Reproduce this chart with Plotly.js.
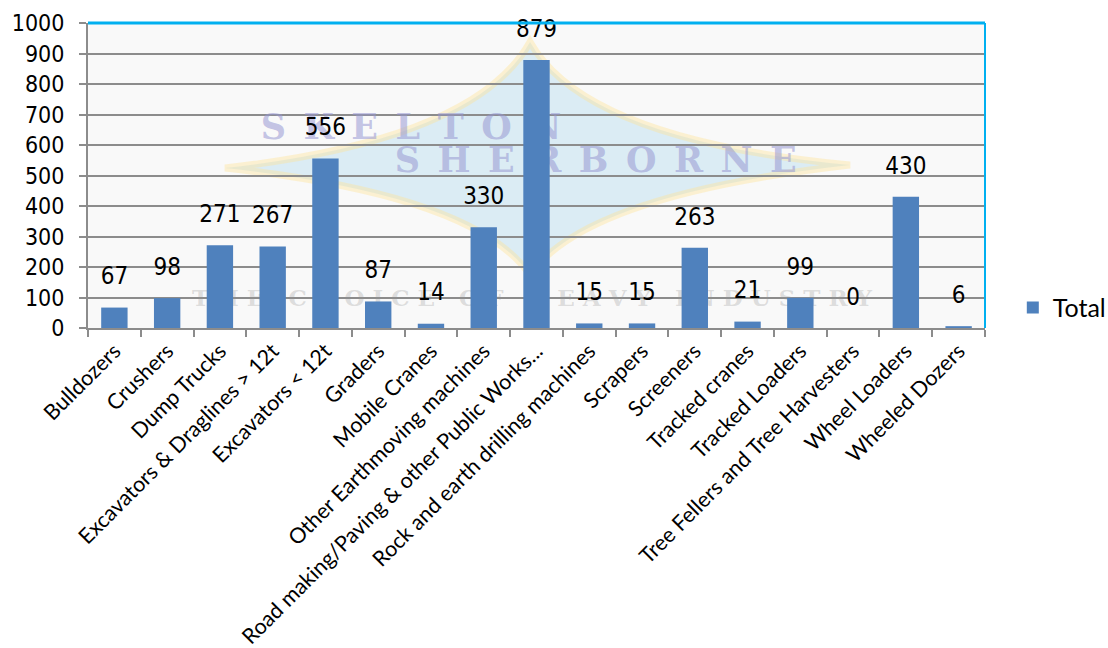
<!DOCTYPE html>
<html>
<head>
<meta charset="utf-8">
<script src="https://cdn.plot.ly/plotly-3.0.1.min.js"></script>
<style>html,body{margin:0;padding:0;background:#fff;}#chart{width:1108px;height:648px;}</style>
</head>
<body>
<div id="chart"></div>
<script>
const categories = [
  'Bulldozers', 'Crushers', 'Dump Trucks', 'Excavators & Draglines &gt; 12t',
  'Excavators &lt; 12t', 'Graders', 'Mobile Cranes', 'Other Earthmoving machines',
  'Road making/Paving & other Public Works...', 'Rock and earth drilling machines',
  'Scrapers', 'Screeners', 'Tracked cranes', 'Tracked Loaders',
  'Tree Fellers and Tree Harvesters', 'Wheel Loaders', 'Wheeled Dozers'
];
const totals = [67, 98, 271, 267, 556, 87, 14, 330, 879, 15, 15, 263, 21, 99, 0, 430, 6];
const yTicks = [0, 100, 200, 300, 400, 500, 600, 700, 800, 900, 1000];
const seriesName = 'Total';
const EN = '\u2002';
const watermarkText = [
  'SKELTON'.split('').join(EN),
  'SHERBORNE'.split('').join(EN),
  'T H E\u00a0\u00a0 C H O I C E\u00a0\u00a0 O F\u00a0\u00a0 H E A V Y\u00a0\u00a0 I N D U S T R Y'
];

const FONT = 'Lato, "Open Sans", sans-serif';
const NUMFONT = '"DejaVu Sans Condensed", Lato, sans-serif';
const BLUE = '#4f81bd';

const traces = [
  {
    type: 'scatter', mode: 'text', xaxis: 'x', yaxis: 'y',
    x: [0.36, 0.566, 0.495], y: [0.649, 0.541, 0.092],
    text: watermarkText,
    textfont: {
      family: '"DejaVu Serif", serif', weight: 'bold',
      size: [35, 35, 23],
      color: ['rgba(150,150,210,0.55)', 'rgba(150,150,210,0.55)', 'rgba(150,150,150,0.3)']
    },
    hoverinfo: 'skip', showlegend: false
  },
  {
    type: 'bar', name: seriesName, xaxis: 'x2', yaxis: 'y2',
    x: categories, y: totals,
    marker: {color: BLUE},
    hoverinfo: 'skip'
  },
  {
    type: 'scatter', mode: 'markers+text', xaxis: 'x2', yaxis: 'y2',
    x: categories, y: totals,
    text: totals.map(String),
    textposition: 'top center',
    textfont: {family: NUMFONT, size: 24, color: '#000'},
    marker: {size: 26, opacity: 0},
    cliponaxis: false,
    hoverinfo: 'skip', showlegend: false
  }
];

const P = (px, py) => [((px - 88) / 897).toFixed(4), ((328 - py) / 305).toFixed(4)];
function diamondPath() {
  const t = P(530, 42), r = P(850, 165), b = P(530, 275), l = P(225, 168);
  const c1 = P(585, 140), c2 = P(585, 195), c3 = P(475, 195), c4 = P(475, 140);
  return `M${t[0]},${t[1]} Q${c1[0]},${c1[1]} ${r[0]},${r[1]} Q${c2[0]},${c2[1]} ${b[0]},${b[1]} ` +
         `Q${c3[0]},${c3[1]} ${l[0]},${l[1]} Q${c4[0]},${c4[1]} ${t[0]},${t[1]} Z`;
}

const layout = {
  width: 1108, height: 648,
  margin: {l: 88, r: 123, t: 23, b: 320, autoexpand: false},
  paper_bgcolor: '#ffffff',
  plot_bgcolor: '#f9f9f9',
  font: {family: FONT, size: 20, color: '#000'},
  bargap: 0.5,
  showlegend: true,
  legend: {
    x: 1.031, y: 0.066, xanchor: 'left', yanchor: 'middle',
    font: {family: FONT, size: 25, color: '#000'},
    bgcolor: 'rgba(0,0,0,0)', itemwidth: 30
  },
  xaxis: {range: [0, 1], visible: false, fixedrange: true},
  yaxis: {range: [0, 1], visible: false, fixedrange: true},
  xaxis2: {
    overlaying: 'x', anchor: 'y2', type: 'category',
    range: [-0.5, categories.length - 0.5], autorange: false,
    tickangle: -45, tickfont: {family: FONT, size: 21.5, color: '#000'},
    showline: true, linecolor: '#8c8c8c', linewidth: 2,
    ticks: 'outside', tickson: 'boundaries', ticklen: 7, tickcolor: '#8c8c8c', tickwidth: 2,
    showgrid: false, automargin: false
  },
  yaxis2: {
    overlaying: 'y', anchor: 'x2', side: 'left',
    range: [0, 1000], autorange: false, tickvals: yTicks, ticktext: yTicks.map(String),
    tickfont: {family: NUMFONT, size: 23, color: '#000'},
    ticklabelstandoff: 10,
    showline: true, linecolor: '#8c8c8c', linewidth: 2,
    ticks: 'outside', ticklen: 7, tickcolor: '#8c8c8c', tickwidth: 2,
    showgrid: true, gridcolor: '#8c8c8c', gridwidth: 2,
    zeroline: false, automargin: false
  },
  shapes: [
    {type: 'path', xref: 'paper', yref: 'paper', layer: 'below', path: diamondPath(),
     fillcolor: 'rgba(175,218,238,0.4)', line: {color: 'rgba(255,228,150,0.4)', width: 7}},
    {type: 'line', xref: 'paper', yref: 'paper', x0: 0, x1: 1, y0: 1, y1: 1,
     line: {color: '#00b0f0', width: 3}},
    {type: 'line', xref: 'paper', yref: 'paper', x0: 1, x1: 1, y0: 0, y1: 1,
     line: {color: '#00b0f0', width: 2}}
  ]
};

Plotly.newPlot('chart', traces, layout, {staticPlot: true, displayModeBar: false});
</script>
</body>
</html>
